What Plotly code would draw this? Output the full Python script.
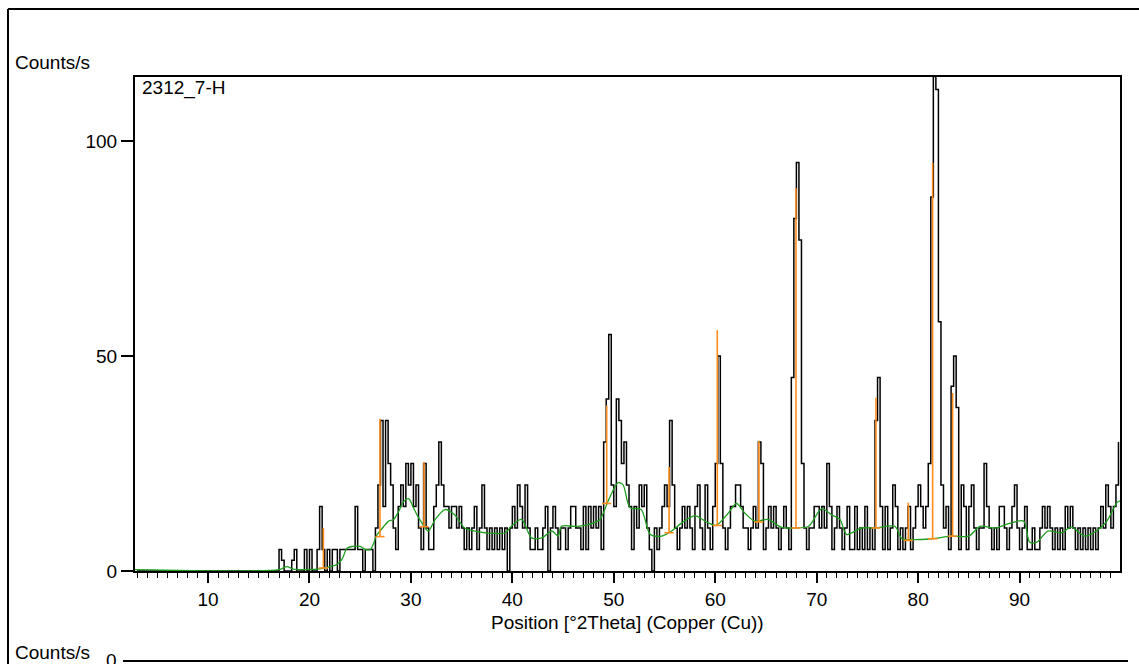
import plotly.graph_objects as go

# ---------------- data ----------------
scan_start = 3.0      # deg 2Theta
scan_step = 0.25      # deg 2Theta
counts = [
    0, 0, 0, 0, 0, 0, 0, 0,            # 3.0 - 4.75
    0, 0, 0, 0, 0, 0, 0, 0,            # 5.0 - 6.75
    0, 0, 0, 0, 0, 0, 0, 0,            # 7.0 - 8.75
    0, 0, 0, 0, 0, 0, 0, 0,            # 9.0 - 10.75
    0, 0, 0, 0, 0, 0, 0, 0,            # 11.0 - 12.75
    0, 0, 0, 0, 0, 0, 0, 0,            # 13.0 - 14.75
    0, 0, 0, 0, 0, 0, 0, 0,            # 15.0 - 16.75
    5, 2.5, 0, 0, 0, 2.5, 5, 0,        # 17.0
    0, 0, 5, 0, 5, 0, 0, 5,            # 19.0
    15, 5, 0, 5, 0, 5, 5, 0,           # 21.0
    5, 5, 5, 5, 5, 5, 15, 5,           # 23.0
    5, 0, 5, 5, 5, 0, 10, 20,          # 25.0
    35, 15, 35, 25, 20, 10, 5, 15,     # 27.0
    20, 15, 25, 20, 25, 15, 20, 10,    # 29.0
    5, 25, 10, 5, 5, 15, 20, 30,       # 31.0
    20, 15, 15, 10, 15, 15, 10, 15,    # 33.0
    10, 5, 10, 5, 10, 15, 5, 10,       # 35.0
    20, 10, 5, 10, 5, 10, 5, 10,       # 37.0
    5, 10, 0, 10, 15, 10, 20, 15,      # 39.0
    10, 20, 10, 5, 5, 10, 5, 5,        # 41.0
    10, 15, 0, 10, 15, 10, 5, 10,      # 43.0
    10, 5, 10, 15, 15, 10, 10, 5,      # 45.0
    15, 5, 15, 10, 15, 10, 15, 5,      # 47.0
    30, 40, 55, 20, 15, 40, 35, 25,    # 49.0
    30, 20, 15, 5, 15, 10, 20, 15,     # 51.0
    20, 10, 5, 0, 10, 5, 10, 15,       # 53.0
    20, 15, 35, 20, 10, 5, 10, 15,     # 55.0
    10, 15, 10, 5, 15, 20, 10, 5,      # 57.0
    20, 10, 5, 15, 25, 50, 25, 10,     # 59.0
    5, 10, 15, 15, 20, 20, 15, 10,     # 61.0
    10, 5, 10, 15, 10, 30, 25, 5,      # 63.0
    10, 15, 10, 15, 10, 5, 10, 15,     # 65.0
    10, 5, 45, 82, 95, 77, 25, 10,     # 67.0
    5, 10, 10, 15, 15, 10, 15, 10,     # 69.0
    25, 15, 5, 10, 15, 10, 5, 10,      # 71.0
    15, 5, 5, 15, 5, 10, 5, 15,        # 73.0
    5, 10, 5, 35, 45, 15, 5, 15,       # 75.0
    5, 10, 20, 15, 5, 10, 5, 10,       # 77.0
    15, 5, 10, 15, 20, 15, 10, 15,     # 79.0
    25, 87, 115, 112, 58, 20, 10, 15,  # 81.0
    5, 43, 50, 38, 5, 20, 15, 5,       # 83.0
    15, 20, 10, 5, 10, 10, 25, 15,     # 85.0
    10, 5, 10, 5, 15, 15, 10, 5,       # 87.0
    10, 15, 20, 10, 5, 10, 15, 5,      # 89.0
    5, 10, 5, 5, 10, 15, 10, 15,       # 91.0
    10, 5, 10, 5, 10, 5, 15, 10,       # 93.0
    15, 10, 5, 10, 5, 10, 5, 10,       # 95.0
    5, 10, 5, 10, 15, 10, 20, 15,      # 97.0
    10, 15, 20, 30,                    # 99.0
]

background_x = [2.8, 17.0, 17.75, 18.5, 21.0, 22.0, 22.7, 23.2, 23.7, 24.2,
                25.0, 25.5, 26.0, 26.3, 26.6, 27.3, 27.8, 28.3, 28.8, 29.3,
                29.8, 30.25, 30.75, 31.05, 31.7, 32.4, 33.35, 34.3, 35.3, 36.3,
                37.3, 39.3, 39.9, 40.9, 41.9, 42.9, 43.9, 44.5, 44.85, 46.2,
                47.5, 48.6, 49.5, 50.4, 50.9, 51.6, 52.7, 53.6, 54.7, 55.7,
                56.7, 58.0, 59.3, 60.1, 61.3, 62.1, 62.9, 63.9, 65.2, 66.5,
                67.9, 69.2, 70.5, 71.5, 72.3, 72.95, 74.4, 75.7, 77.7, 78.4,
                79.4, 81.3, 83.3, 85.0, 86.1, 87.6, 88.9, 90.4, 91.0, 91.7,
                92.8, 94.15, 95.1, 96.45, 97.8, 98.6, 99.6, 99.9]
background_y = [0.3, 0.3, 1.0, 0.4, 0.5, 1.0, 1.5, 2.7, 5.3, 5.7,
                5.7, 5.0, 5.0, 6.3, 8.2, 10.3, 11.6, 12.0, 13.9, 16.2,
                16.8, 14.7, 12.4, 11.3, 9.3, 12.0, 14.3, 13.1, 10.0, 9.3,
                8.9, 8.9, 10.4, 12.0, 7.7, 7.7, 9.3, 8.1, 10.4, 10.4,
                10.8, 11.9, 16.6, 20.5, 20.1, 14.7, 14.3, 8.5, 8.1, 9.3,
                11.2, 12.8, 11.2, 10.6, 13.5, 15.7, 13.5, 11.6, 12.0, 10.2,
                10.0, 10.4, 14.5, 13.0, 12.0, 8.5, 10.0, 10.0, 10.4, 7.5,
                7.3, 7.5, 8.1, 8.1, 10.4, 10.0, 11.0, 11.6, 6.7, 6.7,
                9.3, 8.9, 10.2, 8.1, 9.7, 11.6, 15.9, 16.3]

peak_pos = [21.37, 26.95, 31.29, 49.3, 55.45, 60.2, 64.3, 67.96, 75.84, 79.03, 81.43, 83.4]
peak_base = [0.7, 8.0, 10.3, 15.7, 8.9, 10.6, 11.4, 10.0, 10.0, 7.1, 7.5, 8.1]
peak_top = [10.0, 35.4, 25.3, 38.5, 24.2, 56.0, 30.3, 89.0, 40.3, 15.9, 94.9, 41.4]

x_ticks = [10, 20, 30, 40, 50, 60, 70, 80, 90]
y_ticks = [0, 50, 100]
sample_name = "2312_7-H"
y_label = "Counts/s"
x_label = "Position [°2Theta] (Copper (Cu))"

# ---------------- figure ----------------
W, H = 1139, 664
ML, MR, MT, MB = 135, 19, 77, 93
PW, PH = W - ML - MR, H - MT - MB


def px(xp):
    return (xp - ML) / PW


def py(yp):
    return (H - MB - yp) / PH


FONT = "Arial, 'Liberation Sans', sans-serif"
FS = 19

two_theta = [scan_start + i * scan_step for i in range(len(counts))]

fig = go.Figure()
fig.add_trace(go.Scatter(
    x=two_theta, y=counts, mode="lines",
    line=dict(color="black", width=1.5, shape="hv"),
    hoverinfo="skip"))
fig.add_trace(go.Scatter(
    x=background_x, y=background_y, mode="lines",
    line=dict(color="#1e9e1e", width=1.3, shape="spline", smoothing=0.8),
    hoverinfo="skip"))

stick_x, stick_y = [], []
for p, b, t in zip(peak_pos, peak_base, peak_top):
    stick_x += [p - 0.45, p + 0.45, None, p, p, None]
    stick_y += [b, b, None, b, t, None]
fig.add_trace(go.Scatter(
    x=stick_x, y=stick_y, mode="lines",
    line=dict(color="#ff8c1a", width=1.6),
    hoverinfo="skip"))

fig.update_layout(
    width=W, height=H,
    margin=dict(l=ML, r=MR, t=MT, b=MB),
    paper_bgcolor="white", plot_bgcolor="white",
    showlegend=False,
    font=dict(family=FONT, size=FS, color="black"),
    xaxis=dict(
        range=[2.8, 99.9], tickvals=x_ticks, ticks="outside", ticklen=10,
        tickwidth=1.5, tickcolor="black", showline=True, linewidth=2,
        linecolor="black", mirror=True, showgrid=False, zeroline=False,
        tickfont=dict(family=FONT, size=FS, color="black"),
        minor=dict(dtick=1, ticks="outside", ticklen=5, tickwidth=1,
                   tickcolor="black", showgrid=False),
    ),
    yaxis=dict(
        range=[0, 114.9], tickvals=y_ticks, ticks="outside", ticklen=12,
        tickwidth=1.5, tickcolor="black", showline=True, linewidth=2,
        linecolor="black", mirror=True, showgrid=False, zeroline=False,
        tickfont=dict(family=FONT, size=FS, color="black"),
    ),
)

annotations = [
    dict(text=y_label, x=px(13), y=py(62), xanchor="left", yanchor="middle"),
    dict(text=sample_name, x=px(140), y=py(88), xanchor="left", yanchor="middle"),
    dict(text=x_label, x=px(627), y=py(622), xanchor="center", yanchor="middle"),
    dict(text=y_label, x=px(13), y=py(652), xanchor="left", yanchor="middle"),
    dict(text="0", x=px(119), y=py(660), xanchor="right", yanchor="middle"),
]
for a in annotations:
    a.update(xref="paper", yref="paper", showarrow=False,
             font=dict(family=FONT, size=FS, color="black"))
fig.update_layout(annotations=annotations)

shapes = [
    # outer frame (top and left edges visible)
    dict(type="line", x0=px(8), x1=px(1145), y0=py(9), y1=py(9)),
    dict(type="line", x0=px(8), x1=px(8), y0=py(9), y1=py(680)),
    # top of the lower panel
    dict(type="line", x0=px(135), x1=px(1128), y0=py(661), y1=py(661)),
    dict(type="line", x0=px(123), x1=px(135), y0=py(661), y1=py(661)),
]
for s in shapes:
    s.update(xref="paper", yref="paper", line=dict(color="black", width=2), layer="above")
fig.update_layout(shapes=shapes)

fig.write_html(
    "out.html",
    config={"displayModeBar": False},
    post_script="document.body.style.margin='0px';document.body.style.overflow='hidden';",
)
